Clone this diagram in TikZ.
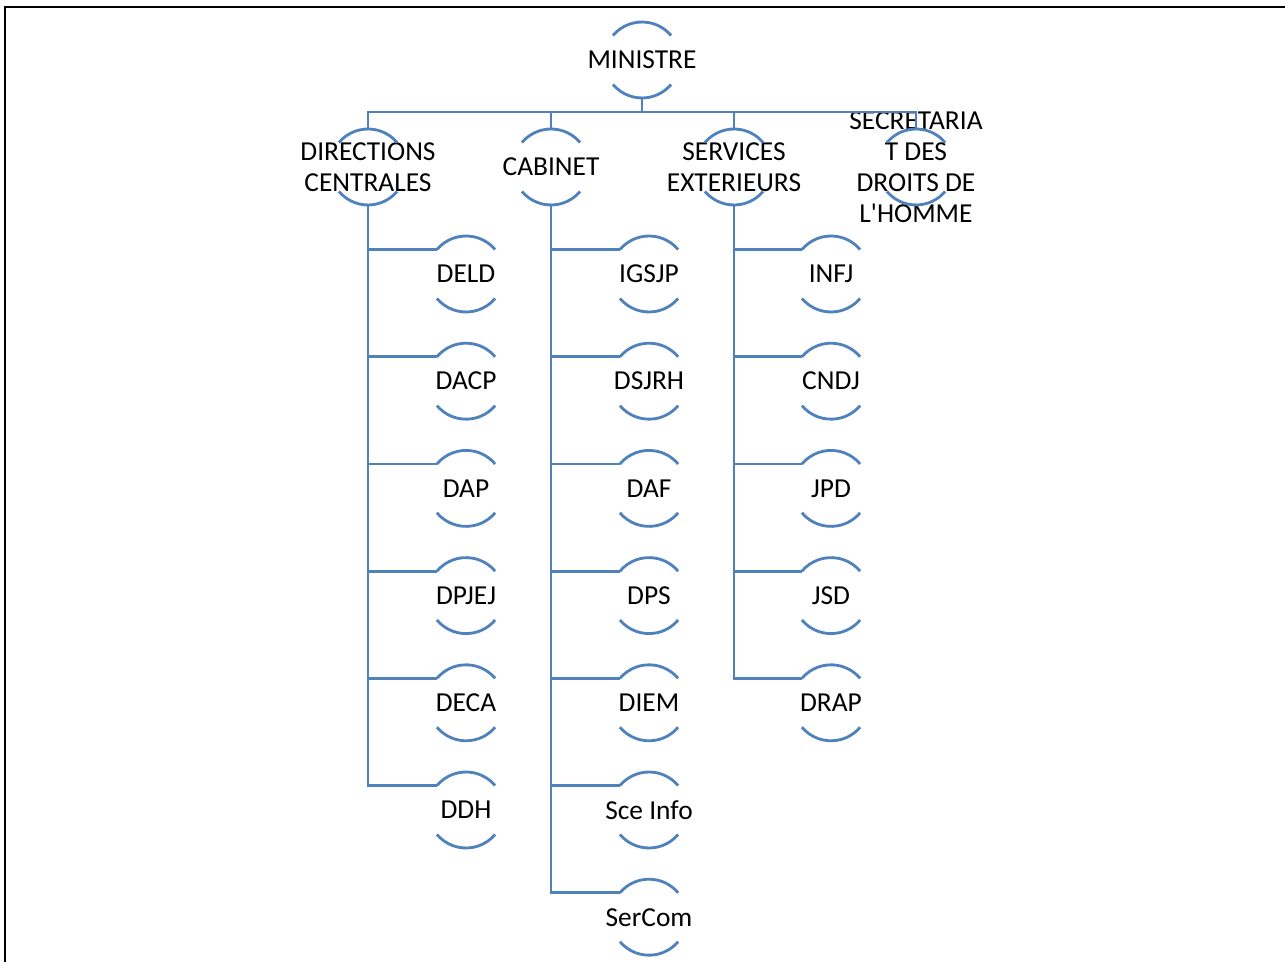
\documentclass[tikz,border=0pt]{standalone}
\usepackage{fontspec}
\setmainfont{Carlito}
\definecolor{orgblue}{RGB}{79,129,189}

% arcs above and below a unit
\newcommand{\ringarcs}[1]{%
  \draw[arcline] ([shift={(140:\rr)}]#1.center) arc[start angle=140,end angle=40,radius=\rr];
  \draw[arcline] ([shift={(220:\rr)}]#1.center) arc[start angle=220,end angle=320,radius=\rr];
}
\def\rr{0.76cm}

\begin{document}
\begin{tikzpicture}[
    x=0.02cm, y=0.02cm,
    unit/.style={font=\fontsize{15.6}{17.6}\selectfont, align=center, inner sep=0pt},
    arcline/.style={orgblue, line width=1.6pt},
    link/.style={orgblue, line width=1.6pt}
  ]
  \useasboundingbox (0,0) rectangle (1285,-962);
  \draw[black, line width=1.1pt] (5,-962) -- (5,-7) -- (1285,-7);

  % top level
  \node[unit] (min) at (642,-60) {MINISTRE};
  \node[unit] (dc)  at (368,-167) {DIRECTIONS\\CENTRALES};
  \node[unit] (cab) at (551,-167) {CABINET};
  \node[unit] (se)  at (734,-167) {SERVICES\\EXTERIEURS};
  \node[unit] (sdh) at (916,-167) {SECRETARIA\\T DES\\DROITS DE\\L\textquotesingle HOMME};
  \coordinate (bus) at (642,-112);

  % units below
  \foreach \t [count=\i] in {DELD,DACP,DAP,DPJEJ,DECA,DDH}
    \node[unit] (dc\i) at (466,{-274-107.2*(\i-1)}) {\t};
  \foreach \t [count=\i] in {IGSJP,DSJRH,DAF,DPS,DIEM,Sce Info,SerCom}
    \node[unit] (cab\i) at (649,{-274-107.2*(\i-1)}) {\t};
  \foreach \t [count=\i] in {INFJ,CNDJ,JPD,JSD,DRAP}
    \node[unit] (se\i) at (831,{-274-107.2*(\i-1)}) {\t};

  \foreach \n in {min,dc,cab,se,sdh}{\ringarcs{\n}}
  \foreach \i in {1,...,6}{\ringarcs{dc\i}}
  \foreach \i in {1,...,7}{\ringarcs{cab\i}}
  \foreach \i in {1,...,5}{\ringarcs{se\i}}

  % connectors
  \draw[link] ([shift={(270:\rr)}]min.center) -- (bus);
  \foreach \n in {dc,cab,se,sdh}
    \draw[link] (bus) -| ([shift={(90:\rr)}]\n.center);
  \foreach \i in {1,...,6}
    \draw[link] ([shift={(270:\rr)}]dc.center) |- ([shift={(140:\rr)}]dc\i.center);
  \foreach \i in {1,...,7}
    \draw[link] ([shift={(270:\rr)}]cab.center) |- ([shift={(140:\rr)}]cab\i.center);
  \foreach \i in {1,...,5}
    \draw[link] ([shift={(270:\rr)}]se.center) |- ([shift={(140:\rr)}]se\i.center);
\end{tikzpicture}
\end{document}
